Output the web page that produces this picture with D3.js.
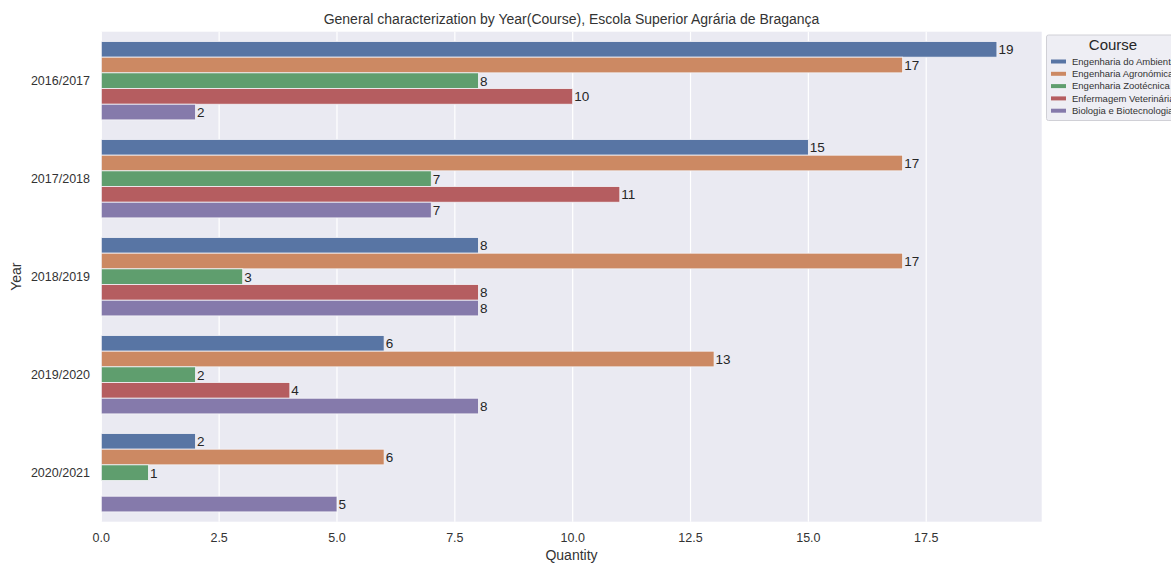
<!DOCTYPE html>
<html><head><meta charset="utf-8">
<script src="https://d3js.org/d3.v7.min.js"></script>
<style>body{margin:0;background:#fff;} text{font-family:"Liberation Sans",Arial,sans-serif;}</style>
</head><body>
<svg id="c" width="1171" height="563"></svg>
<script>
const years = ["2016/2017","2017/2018","2018/2019","2019/2020","2020/2021"];
const courses = ["Engenharia do Ambiente","Engenharia Agronómica","Engenharia Zootécnica","Enfermagem Veterinária","Biologia e Biotecnologia"];
const ambiente = [19,15,8,6,2];
const agronomica = [17,17,17,13,6];
const zootecnica = [8,7,3,2,1];
const enfermagem = [10,11,8,4,null];
const biologia = [2,7,8,8,5];
const colors = ["#5875a4","#cc8963","#5f9e6e","#b55d60","#857aab"];
const xTicks = [0,2.5,5,7.5,10,12.5,15,17.5];
const series = [ambiente, agronomica, zootecnica, enfermagem, biologia];

const svg = d3.select("#c");
const L=101.3, R=1041.7, T=31.7, B=521.7;
const x = d3.scaleLinear().domain([0,19.95]).range([L,R]);
const y = d3.scaleLinear().domain([-0.5,4.5]).range([T,B]);
const txt = "#262626";

svg.append("rect").attr("x",L).attr("y",T).attr("width",R-L).attr("height",B-T).attr("fill","#eaeaf2");
svg.append("g").selectAll("line").data(xTicks).join("line")
  .attr("x1",d=>x(d)).attr("x2",d=>x(d)).attr("y1",T).attr("y2",B)
  .attr("stroke","#fff").attr("stroke-width",1.2);

const bw = 0.8/courses.length;
courses.forEach((c,ci)=>{
  const vals = series[ci];
  const g = svg.append("g");
  years.forEach((yr,yi)=>{
    const v = vals[yi];
    if (v==null) return;
    const y0 = y(yi - 0.4 + ci*bw), y1 = y(yi - 0.4 + (ci+1)*bw);
    g.append("rect").attr("x",x(0)).attr("y",y0).attr("width",x(v)-x(0)).attr("height",y1-y0)
      .attr("fill",colors[ci]).attr("stroke","#f4f4f8").attr("stroke-width",0.8);
    g.append("text").attr("x",x(v)+1.5).attr("y",(y0+y1)/2).attr("dy","0.36em")
      .attr("font-size",13.5).attr("fill",txt).text(v);
  });
});

// x ticks
svg.append("g").selectAll("text").data(xTicks).join("text")
  .attr("x",d=>x(d)).attr("y",542).attr("text-anchor","middle").attr("font-size",12.5).attr("fill","#333")
  .text(d=>d3.format(".1f")(d));
svg.append("text").attr("x",(L+R)/2).attr("y",560).attr("text-anchor","middle").attr("font-size",14).attr("fill","#333").text("Quantity");
// y ticks
svg.append("g").selectAll("text").data(years).join("text")
  .attr("x",90).attr("y",(d,i)=>y(i)).attr("dy","0.36em").attr("text-anchor","end").attr("font-size",12.5).attr("fill","#333").text(d=>d);
svg.append("text").attr("transform",`translate(21,${(T+B)/2}) rotate(-90)`).attr("text-anchor","middle").attr("font-size",14).attr("fill","#333").text("Year");
// title
svg.append("text").attr("x",(L+R)/2).attr("y",23.5).attr("text-anchor","middle").attr("font-size",14).attr("fill","#333")
  .text("General characterization by Year(Course), Escola Superior Agrária de Bragança");

// legend
const lg = svg.append("g");
lg.append("rect").attr("x",1046.5).attr("y",35).attr("width",140).attr("height",85.5).attr("rx",2)
  .attr("fill","#eeeef4").attr("stroke","#d0d0d6").attr("stroke-width",1);
lg.append("text").attr("x",1113).attr("y",50).attr("text-anchor","middle").attr("font-size",15).attr("fill","#262626").text("Course");
courses.forEach((c,i)=>{
  const yy = 61.5 + i*12.3;
  lg.append("line").attr("x1",1051).attr("x2",1066).attr("y1",yy).attr("y2",yy).attr("stroke",colors[i]).attr("stroke-width",4);
  lg.append("text").attr("x",1072).attr("y",yy).attr("dy","0.35em").attr("font-size",9.5).attr("fill","#333").text(c);
});
</script>
</body></html>
